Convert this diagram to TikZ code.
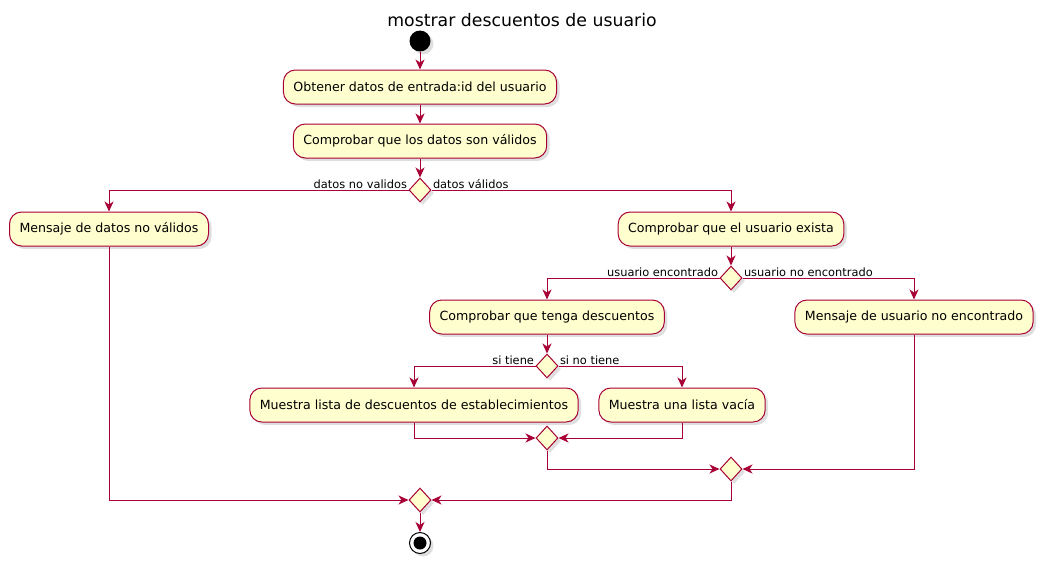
\documentclass[tikz,border=0pt]{standalone}
\usepackage{fontspec}
\setmainfont{DejaVu Sans}
\usetikzlibrary{arrows.meta,shapes.geometric,shadows}
\definecolor{pumlred}{HTML}{A80036}
\definecolor{pumlfill}{HTML}{FEFECE}

\tikzset{
	sombra/.style={drop shadow={shadow xshift=3pt, shadow yshift=-3pt, opacity=0.25}},
	actividad/.style={draw=pumlred, fill=pumlfill, rounded corners=12pt, line width=1pt, minimum height=34pt, inner xsep=10pt, font=\fontsize{12.6}{15}\selectfont, sombra},
	rombo/.style={diamond, draw=pumlred, fill=pumlfill, line width=1pt, minimum width=22pt, minimum height=24pt, inner sep=0pt, sombra},
	flecha/.style={draw=pumlred, line width=1pt, ->},
	etiqueta/.style={font=\fontsize{11.4}{13}\selectfont, inner sep=1pt, text=black}
}

\begin{document}
\begin{tikzpicture}[x=1pt, y=-1pt, >={Stealth[length=10pt, width=9pt, inset=3pt]}]
	\useasboundingbox (0,0) rectangle (1044,562);
	\node [font=\fontsize{17.3}{20}\selectfont] (titulo) at (522,20) {mostrar descuentos de usuario};
	%inicio
	\node [circle, fill=black, minimum size=21pt, inner sep=0pt, sombra] (inicio) at (420,41) {};
	\node [actividad] (obtener) at (420,87) {Obtener datos de entrada:id del usuario};
	\node [actividad] (comprobar) at (420,141) {Comprobar que los datos son válidos};
	\node [rombo] (d1) at (420,190) {};
	%rama datos no validos
	\node [actividad] (datosmal) at (109,229) {Mensaje de datos no válidos};
	%rama datos validos
	\node [actividad] (existe) at (731,229) {Comprobar que el usuario exista};
	\node [rombo] (d2) at (731,278) {};
	\node [actividad] (tenga) at (547,317) {Comprobar que tenga descuentos};
	\node [actividad] (noencontrado) at (914,317) {Mensaje de usuario no encontrado};
	\node [rombo] (d3) at (547,366) {};
	\node [actividad] (lista) at (414,405) {Muestra lista de descuentos de establecimientos};
	\node [actividad] (vacia) at (682,405) {Muestra una lista vacía};
	%uniones
	\node [rombo] (m3) at (547,438) {};
	\node [rombo] (m2) at (731,469) {};
	\node [rombo] (m1) at (420,500) {};
	%fin
	\node [circle, draw=black, fill=white, line width=1pt, minimum size=21pt, inner sep=0pt, sombra] (fin) at (420,543) {};
	\fill (fin.center) circle (6.5);

	\draw [flecha] (inicio) -- (obtener);
	\draw [flecha] (obtener) -- (comprobar);
	\draw [flecha] (comprobar) -- (d1);
	\draw [flecha] (d1.west) -| (datosmal.north) node [etiqueta, pos=0, anchor=south east] {datos no validos};
	\draw [flecha] (d1.east) -| (existe.north) node [etiqueta, pos=0, anchor=south west] {datos válidos};
	\draw [flecha] (existe) -- (d2);
	\draw [flecha] (d2.west) -| (tenga.north) node [etiqueta, pos=0, anchor=south east] {usuario encontrado};
	\draw [flecha] (d2.east) -| (noencontrado.north) node [etiqueta, pos=0, anchor=south west] {usuario no encontrado};
	\draw [flecha] (tenga) -- (d3);
	\draw [flecha] (d3.west) -| (lista.north) node [etiqueta, pos=0, anchor=south east] {si tiene};
	\draw [flecha] (d3.east) -| (vacia.north) node [etiqueta, pos=0, anchor=south west] {si no tiene};
	\draw [flecha] (lista.south) |- (m3.west);
	\draw [flecha] (vacia.south) |- (m3.east);
	\draw [flecha] (m3.south) |- (m2.west);
	\draw [flecha] (noencontrado.south) |- (m2.east);
	\draw [flecha] (m2.south) |- (m1.east);
	\draw [flecha] (datosmal.south) |- (m1.west);
	\draw [flecha] (m1) -- (fin);
\end{tikzpicture}
\end{document}
